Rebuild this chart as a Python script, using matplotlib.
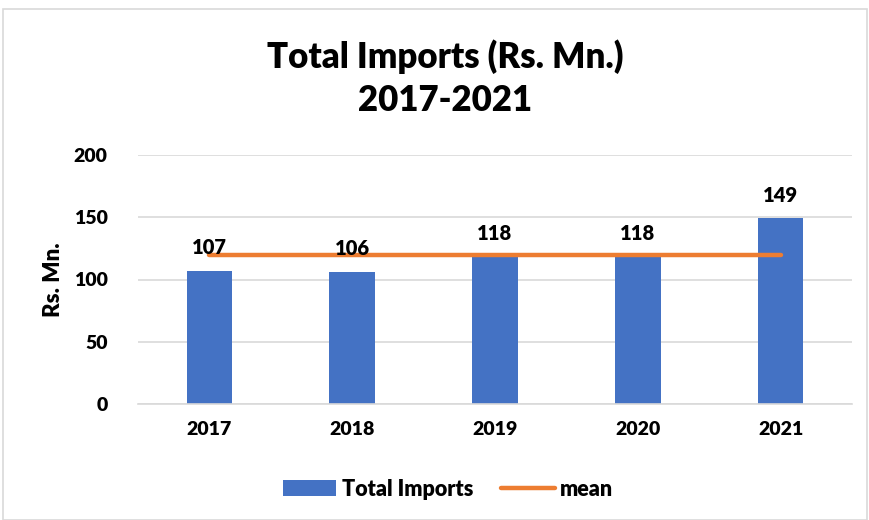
import matplotlib
matplotlib.use("Agg")
import matplotlib.pyplot as plt
from matplotlib.patches import Rectangle

years = ["2017", "2018", "2019", "2020", "2021"]
imports = [107, 106, 118, 118, 149]
mean_val = sum(imports) / len(imports)
means = [mean_val] * len(years)
yticks = [0, 50, 100, 150, 200]

plt.rcParams['font.family'] = ['Lato', 'DejaVu Sans']
WT = 'heavy'
plt.rcParams['font.weight'] = WT

W, H = 870, 520
fig = plt.figure(figsize=(W/100, H/100), dpi=100)
ax = fig.add_axes([138/W, 1-404/H, (852-138)/W, (404-155)/H])

x = list(range(len(years)))
bars = ax.bar(x, imports, width=0.32, color='#4472C4', label='Total Imports', zorder=2)
line, = ax.plot(x, means, color='#ED7D31', linewidth=3.2, solid_capstyle='round', label='mean', zorder=3)

for xi, v in zip(x, imports):
    ax.annotate(str(v), (xi, v), xytext=(0, 10), textcoords='offset points',
                ha='center', va='bottom', fontsize=14.5, fontweight=WT, color='#000000', zorder=4)

ax.set_xlim(-0.5, len(years)-0.5)
ax.set_ylim(0, 200)
ax.set_yticks(yticks)
ax.set_xticks(x)
ax.set_xticklabels(years)
ax.tick_params(axis='both', length=0, labelsize=14, pad=12)
for lab in ax.get_xticklabels() + ax.get_yticklabels():
    lab.set_fontweight(WT)
ax.tick_params(axis='y', pad=22)
ax.grid(axis='y', color='#D9D9D9', linewidth=1.2, zorder=0)
for s in ['top', 'right', 'left']:
    ax.spines[s].set_visible(False)
ax.spines['bottom'].set_color('#D9D9D9')
ax.spines['bottom'].set_linewidth(1.2)
ax.set_ylabel('Rs. Mn.', fontsize=16, fontweight=WT)
ax.yaxis.set_label_coords((64-138)/(852-138), 0.5)

fig.text(445/W, 1-78/H, 'Total Imports (Rs. Mn.)\n2017-2021', ha='center', va='center',
         fontsize=25, fontweight=WT, linespacing=1.35)

leg = fig.legend([bars, line], ['Total Imports', 'mean'], loc='center',
                 bbox_to_anchor=(448/W, 1-489/H), ncol=2, frameon=False,
                 prop={'size': 15.5, 'weight': WT}, handlelength=2.5, columnspacing=1.3,
                 handletextpad=0.25)

fig.patches.append(Rectangle((3/W, 0.0), (867-3)/W, 1-9/H, transform=fig.transFigure,
                             fill=False, edgecolor='#D9D9D9', linewidth=1.2))

fig.savefig('out.png', dpi=100, facecolor='white')
